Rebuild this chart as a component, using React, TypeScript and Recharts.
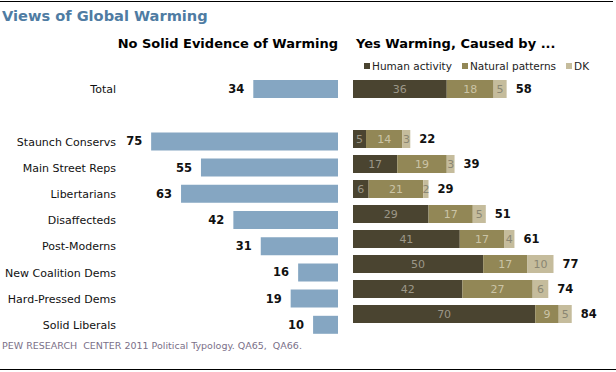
import { BarChart, Bar, XAxis, YAxis, LabelList, Legend } from "recharts"

const categories = [
  "Total",
  "",
  "Staunch Conservs",
  "Main Street Reps",
  "Libertarians",
  "Disaffecteds",
  "Post-Moderns",
  "New Coalition Dems",
  "Hard-Pressed Dems",
  "Solid Liberals",
]
const noEvidence = [34, null, 75, 55, 63, 42, 31, 16, 19, 10]
const human = [36, null, 5, 17, 6, 29, 41, 50, 42, 70]
const natural = [18, null, 14, 19, 21, 17, 17, 17, 27, 9]
const dk = [5, null, 3, 3, 2, 5, 4, 10, 6, 5]
const yesTotal = [58, null, 22, 39, 29, 51, 61, 77, 74, 84]

const data = categories.map((name, i) => ({
  name,
  no: noEvidence[i],
  human: human[i],
  natural: natural[i],
  dk: dk[i],
  total: yesTotal[i],
}))

const FONT = "'DejaVu Sans', Verdana, sans-serif"
const BLUE = "#85a6c2"
const DARK = "#4a4430"
const OLIVE = "#928756"
const LIGHT = "#c5bc9c"

const legendItems = [
  { label: "Human activity", color: DARK },
  { label: "Natural patterns", color: OLIVE },
  { label: "DK", color: LIGHT },
]

function CategoryTick({ y, payload }: any) {
  return (
    <text x={116} y={y} dy={4} textAnchor="end" fontSize={11} fontFamily={FONT} fill="#111">
      {payload.value}
    </text>
  )
}

function LeftValue(props: any) {
  const { x, y, width, height, value } = props
  if (value == null) return null
  const left = Math.min(x, x + width)
  return (
    <text x={left - 9} y={y + height / 2} dy={4} textAnchor="end" fontSize={11.5} fontWeight="bold" fontFamily={FONT} fill="#111">
      {value}
    </text>
  )
}

function inner(color: string) {
  return (props: any) => {
    const { x, y, width, height, value } = props
    if (value == null) return null
    return (
      <text x={x + width / 2} y={y + height / 2} dy={4} textAnchor="middle" fontSize={11} fontFamily={FONT} fill={color}>
        {value}
      </text>
    )
  }
}

function TotalValue(props: any) {
  const { x, y, width, height, value } = props
  if (value == null) return null
  return (
    <text x={x + width + 9} y={y + height / 2} dy={4} textAnchor="start" fontSize={11.5} fontWeight="bold" fontFamily={FONT} fill="#111">
      {value}
    </text>
  )
}

function LegendContent() {
  return (
    <div style={{ display: "flex", fontFamily: FONT, fontSize: 10.5, color: "#222", whiteSpace: "nowrap" }}>
      {legendItems.map((it) => (
        <div key={it.label} style={{ display: "flex", alignItems: "center", marginRight: 10 }}>
          <span style={{ width: 6, height: 6, background: it.color, marginRight: 2, display: "inline-block" }} />
          {it.label}
        </div>
      ))}
    </div>
  )
}

export default function App() {
  return (
    <div style={{ position: "absolute", left: 0, top: 0, width: 616, height: 372, background: "#fff", fontFamily: FONT }}>
      <div style={{ position: "absolute", left: 0, top: 1, width: 613, height: 1, background: "#000" }} />
      <div style={{ position: "absolute", left: 2, top: 7, fontSize: 14.6, fontWeight: "bold", color: "#4f7ca3" }}>
        Views of Global Warming
      </div>
      <div style={{ position: "absolute", right: 616 - 338, top: 36, fontSize: 13, fontWeight: "bold", color: "#000", whiteSpace: "nowrap" }}>
        No Solid Evidence of Warming
      </div>
      <div style={{ position: "absolute", left: 356, top: 36, fontSize: 13, fontWeight: "bold", color: "#000", whiteSpace: "nowrap" }}>
        Yes Warming, Caused by ...
      </div>

      <div style={{ position: "absolute", left: 0, top: 0 }}>
        <BarChart width={340} height={372} data={data} layout="vertical" margin={{ top: 76, bottom: 34, left: 0, right: 2 }} barSize={18}>
          <XAxis type="number" domain={[0, 87.5]} reversed hide />
          <YAxis type="category" dataKey="name" width={120} axisLine={false} tickLine={false} tick={<CategoryTick />} interval={0} />
          <Bar dataKey="no" fill={BLUE} isAnimationActive={false}>
            <LabelList dataKey="no" content={<LeftValue />} />
          </Bar>
        </BarChart>
      </div>

      <div style={{ position: "absolute", left: 340, top: 0 }}>
        <BarChart width={276} height={372} data={data} layout="vertical" margin={{ top: 76, bottom: 34, left: 13, right: 0 }} barSize={18}>
          <XAxis type="number" domain={[0, 101]} hide />
          <YAxis type="category" dataKey="name" hide />
          <Legend
            content={<LegendContent />}
            wrapperStyle={{ position: "absolute", left: 24, top: 60, width: "auto" }}
          />
          <Bar dataKey="human" stackId="y" fill={DARK} isAnimationActive={false}>
            <LabelList dataKey="human" content={inner("#9c9788")} />
          </Bar>
          <Bar dataKey="natural" stackId="y" fill={OLIVE} isAnimationActive={false}>
            <LabelList dataKey="natural" content={inner("#cbc4a6")} />
          </Bar>
          <Bar dataKey="dk" stackId="y" fill={LIGHT} isAnimationActive={false}>
            <LabelList dataKey="dk" content={inner("#8a8672")} />
            <LabelList dataKey="total" content={<TotalValue />} />
          </Bar>
        </BarChart>
      </div>

      <div style={{ position: "absolute", left: 2, top: 340, fontSize: 9.5, color: "#7a7088", whiteSpace: "nowrap" }}>
        PEW RESEARCH&nbsp; CENTER 2011 Political Typology. QA65,&nbsp; QA66.
      </div>
      <div style={{ position: "absolute", left: 0, top: 369, width: 616, height: 1, background: "#000" }} />
    </div>
  )
}
